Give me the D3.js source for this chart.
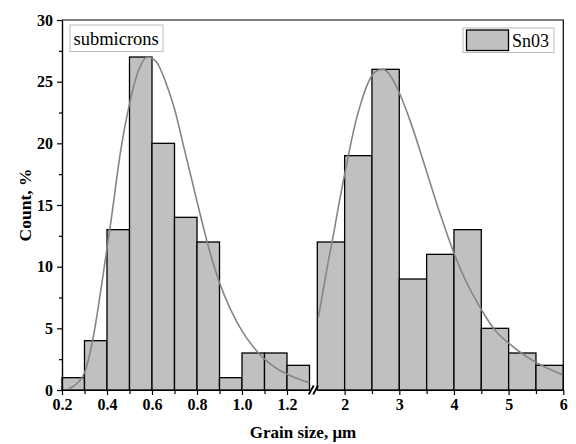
<!DOCTYPE html>
<html>
<head>
<meta charset="utf-8">
<script src="https://cdn.jsdelivr.net/npm/d3@7"></script>
<style>
  body { margin: 0; background: #fff; }
  svg { display: block; }
  .axis text { font-family: "Liberation Serif", "Times New Roman", serif; font-weight: bold; font-size: 16px; fill: #000; }
  .axis path, .axis line { stroke: #000; stroke-width: 1.2; }
</style>
</head>
<body>
<svg id="chart" width="576" height="444"></svg>
<script>
// bins below 1.3 µm (submicrons)
var subEdges = [0.2, 0.3, 0.4, 0.5, 0.6, 0.7, 0.8, 0.9, 1.0, 1.1, 1.2, 1.3];
var subCounts = [1, 4, 13, 27, 20, 14, 12, 1, 3, 3, 2];
// bins above 1.5 µm
var micEdges = [1.5, 2, 2.5, 3, 3.5, 4, 4.5, 5, 5.5, 6];
var micCounts = [12, 19, 26, 9, 11, 13, 5, 3, 2];

// fitted curves
var subFitX = [0.23, 0.28, 0.30, 0.34, 0.38, 0.42, 0.46, 0.50, 0.54, 0.58, 0.62, 0.66, 0.70, 0.74, 0.78, 0.82, 0.86, 0.90, 0.95, 1.00, 1.05, 1.10, 1.15, 1.20, 1.25, 1.30];
var subFitY = [0.1, 0.8, 1.4, 4.4, 9.0, 14.0, 19.3, 23.2, 25.9, 27.0, 26.6, 25.0, 22.8, 19.8, 16.8, 13.8, 11.0, 8.7, 6.5, 4.8, 3.5, 2.5, 1.8, 1.3, 0.9, 0.6];
var micFitX = [1.52, 1.6, 1.7, 1.8, 1.9, 2.0, 2.1, 2.2, 2.3, 2.4, 2.5, 2.6, 2.7, 2.8, 2.9, 3.0, 3.1, 3.2, 3.3, 3.4, 3.5, 3.6, 3.7, 3.8, 3.9, 4.0, 4.2, 4.4, 4.6, 4.8, 5.0, 5.2, 5.4, 5.6, 5.8, 6.0];
var micFitY = [5.9, 7.9, 10.4, 12.7, 15.2, 17.5, 19.7, 21.7, 23.3, 24.6, 25.5, 25.9, 26.0, 25.7, 25.0, 24.1, 23.0, 21.8, 20.5, 19.1, 17.7, 16.3, 14.9, 13.6, 12.3, 11.1, 9.0, 7.3, 5.8, 4.6, 3.8, 3.1, 2.5, 2.0, 1.6, 1.2];

var subTicks = [0.2, 0.4, 0.6, 0.8, 1.0, 1.2];
var subMinor = [0.3, 0.5, 0.7, 0.9, 1.1];
var micTicks = [2, 3, 4, 5, 6];
var micMinor = [2.5, 3.5, 4.5, 5.5];
var yTicks = [0, 5, 10, 15, 20, 25, 30];
var yMinor = [2.5, 7.5, 12.5, 17.5, 22.5, 27.5];

var svg = d3.select("#chart");

var xL = d3.scaleLinear().domain([0.2, 1.3]).range([62, 309.5]);
var xR = d3.scaleLinear().domain([1.5, 6]).range([317.3, 563.3]);
var y = d3.scaleLinear().domain([0, 30]).range([390, 20]);

function drawBars(edges, counts, x) {
    var bins = counts.map(function(c, i) { return { x0: edges[i], x1: edges[i + 1], c: c }; });
    svg.append("g").selectAll("rect")
        .data(bins).enter()
        .append("rect")
        .attr("x", function(d) { return x(d.x0); })
        .attr("y", function(d) { return y(d.c); })
        .attr("width", function(d) { return x(d.x1) - x(d.x0); })
        .attr("height", function(d) { return y(0) - y(d.c); })
        .style("fill", "#c0c0c0")
        .style("stroke", "#000")
        .style("stroke-width", 1.3);
}

function drawFit(xs, ys, x) {
    var line = d3.line()
        .x(function(d) { return x(d[0]); })
        .y(function(d) { return y(d[1]); })
        .curve(d3.curveMonotoneX);
    svg.append("path")
        .datum(xs.map(function(v, i) { return [v, ys[i]]; }))
        .attr("d", line)
        .style("fill", "none")
        .style("stroke", "#858585")
        .style("stroke-width", 1.6);
}

drawBars(subEdges, subCounts, xL);
drawBars(micEdges, micCounts, xR);
drawFit(subFitX, subFitY, xL);
drawFit(micFitX, micFitY, xR);

// frame (top and right)
svg.append("path")
    .attr("d", "M" + xL(0.2) + "," + y(30) + "H" + xR(6) + "V" + y(0))
    .style("fill", "none").style("stroke", "#000").style("stroke-width", 1.2);

// Axis X, two pieces
svg.append("g").attr("class", "axis")
    .attr("transform", "translate(0," + y(0) + ")")
    .call(d3.axisBottom(xL).tickValues(subTicks).tickFormat(d3.format(".1f")).tickSize(5).tickSizeOuter(0).tickPadding(4));
svg.append("g").attr("class", "axis")
    .attr("transform", "translate(0," + y(0) + ")")
    .call(d3.axisBottom(xL).tickValues(subMinor).tickFormat("").tickSize(4).tickSizeOuter(0));
svg.append("g").attr("class", "axis")
    .attr("transform", "translate(0," + y(0) + ")")
    .call(d3.axisBottom(xR).tickValues(micTicks).tickFormat(d3.format("d")).tickSize(5).tickSizeOuter(0).tickPadding(4));
svg.append("g").attr("class", "axis")
    .attr("transform", "translate(0," + y(0) + ")")
    .call(d3.axisBottom(xR).tickValues(micMinor).tickFormat("").tickSize(4).tickSizeOuter(0));

// Axis Y
svg.append("g").attr("class", "axis")
    .attr("transform", "translate(" + xL(0.2) + ",0)")
    .call(d3.axisLeft(y).tickValues(yTicks).tickSize(5).tickSizeOuter(0).tickPadding(4));
svg.append("g").attr("class", "axis")
    .attr("transform", "translate(" + xL(0.2) + ",0)")
    .call(d3.axisLeft(y).tickValues(yMinor).tickFormat("").tickSize(3).tickSizeOuter(0));

// break marks
var bx = (xL(1.3) + xR(1.5)) / 2;
[-2.2, 2.2].forEach(function(o) {
    svg.append("line")
        .attr("x1", bx + o - 2.5).attr("y1", y(0) + 4.5)
        .attr("x2", bx + o + 2.5).attr("y2", y(0) - 4.5)
        .style("stroke", "#000").style("stroke-width", 1.8);
});

// Labels
svg.append("text")
    .attr("transform", "translate(31," + y(15) + ") rotate(-90)")
    .attr("text-anchor", "middle")
    .style("font-family", "Liberation Serif, serif").style("font-weight", "bold").style("font-size", "17.5px")
    .text("Count, %");
svg.append("text")
    .attr("x", 303).attr("y", 438)
    .attr("text-anchor", "middle")
    .style("font-family", "Liberation Serif, serif").style("font-weight", "bold").style("font-size", "17px")
    .text("Grain size, \u03bcm");

// submicrons tag
svg.append("rect")
    .attr("x", 70).attr("y", 25).attr("width", 93).attr("height", 26.5)
    .style("fill", "#fff").style("stroke", "#bbb").style("stroke-width", 1);
svg.append("text")
    .attr("x", 73.5).attr("y", 45)
    .style("font-family", "Liberation Serif, serif").style("font-size", "18.5px")
    .text("submicrons");

// Legend
var legend = svg.append("g").attr("transform", "translate(463,28)");
legend.append("rect")
    .attr("width", 91).attr("height", 24.5)
    .style("fill", "#fff").style("stroke", "#bbb").style("stroke-width", 1);
legend.append("rect")
    .attr("x", 3.5).attr("y", 2).attr("width", 42).attr("height", 20.5)
    .style("fill", "#c0c0c0").style("stroke", "#000").style("stroke-width", 1.3);
legend.append("text")
    .attr("x", 49).attr("y", 18.5)
    .style("font-family", "Liberation Serif, serif").style("font-size", "18px")
    .text("Sn03");
</script>
</body>
</html>
